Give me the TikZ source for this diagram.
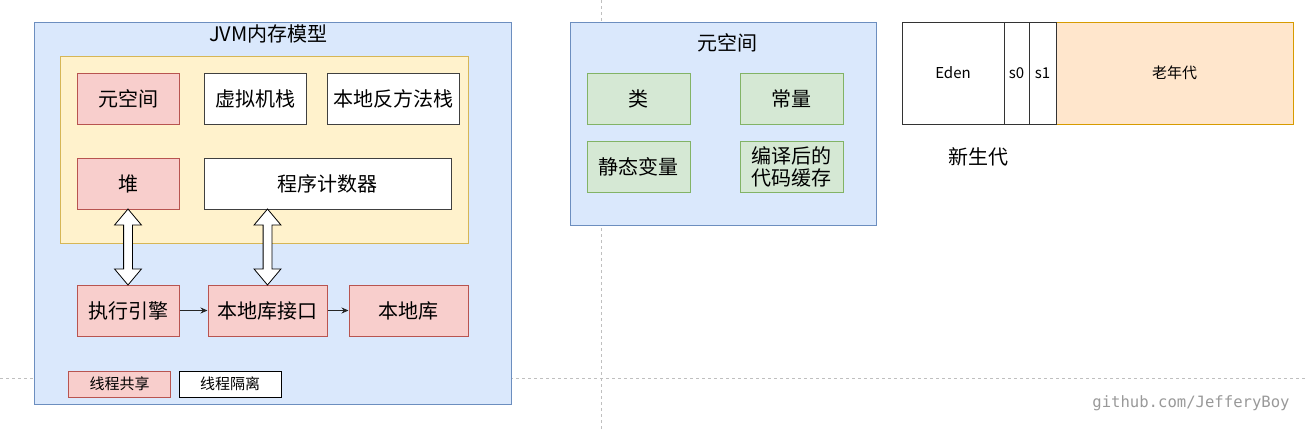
\documentclass[tikz,border=0pt]{standalone}
\usepackage{fontspec}
\setmainfont{Noto Sans CJK SC}
\newfontfamily\monofont{DejaVu Sans Mono}
\usetikzlibrary{shapes.arrows, calc, arrows.meta}

\definecolor{blueFill}{HTML}{DAE8FC}
\definecolor{blueLine}{HTML}{6C8EBF}
\definecolor{yellowFill}{HTML}{FFF2CC}
\definecolor{yellowLine}{HTML}{D6B656}
\definecolor{pinkFill}{HTML}{F8CECC}
\definecolor{pinkLine}{HTML}{B85450}
\definecolor{greenFill}{HTML}{D5E8D4}
\definecolor{greenLine}{HTML}{82B366}
\definecolor{orangeFill}{HTML}{FFE6CC}
\definecolor{orangeLine}{HTML}{D79B00}

\begin{document}
\begin{tikzpicture}[x=1pt, y=-1pt,
    box/.style={draw=black!75, line width=1pt, fill=white, minimum width=102pt,
      minimum height=51pt, inner sep=0pt, font=\fontsize{20}{24}\selectfont},
    pinkbox/.style={box, draw=pinkLine, fill=pinkFill},
    greenbox/.style={box, draw=greenLine, fill=greenFill, minimum width=103pt},
    area/.style={draw=blueLine, fill=blueFill, line width=1pt, inner sep=0pt},
    title/.style={font=\fontsize{20}{24}\selectfont},
    legend/.style={minimum width=102pt, minimum height=26pt, font=\fontsize{15}{18}\selectfont},
    gen/.style={draw=black!80, line width=1pt, fill=white, minimum height=102pt,
      inner sep=0pt, font=\fontsize{15}{18}\selectfont},
    blockarrow/.style={double arrow, draw=black, fill=white, line width=0.8pt,
      rotate=90, inner sep=4pt, minimum width=26pt,
      double arrow head extend=9pt, double arrow tip angle=80},
    link/.style={-{Stealth[length=7pt, width=6pt]}, line width=0.8pt, draw=black!85},
    guide/.style={draw=black!25, dash pattern=on 3pt off 3pt, line width=0.8pt}]
    \useasboundingbox (0,0) rectangle (1305,431);

    % page guides
    \draw [guide] (601,0) -- (601,431);
    \draw [guide] (0,378) -- (1305,378);

    % JVM memory model
    \node [area, minimum width=477pt, minimum height=382pt] (jvm) at (272.5,213) {};
    \node [title] (jvmtitle) at ($(jvm.north)+(-4,12)$) {JVM内存模型};
    \node [draw=yellowLine, fill=yellowFill, line width=1pt, minimum width=408pt,
      minimum height=187pt] (shared) at (264,149.5) {};

    \node [pinkbox] (meta) at (128,98.5) {元空间};
    \node [box] (vmstack) at (255,98.5) {虚拟机栈};
    \node [box, minimum width=132pt] (nativestack) at (393,98.5) {本地反方法栈};
    \node [pinkbox] (heap) at (128,183.5) {堆};
    \node [box, minimum width=247pt] (pc) at (327.5,183.5) {程序计数器};

    \node [pinkbox] (engine) at (128,310.5) {执行引擎};
    \node [pinkbox, minimum width=119pt] (nif) at (267.5,310.5) {本地库接口};
    \node [pinkbox, minimum width=119pt] (nlib) at (408.5,310.5) {本地库};

    % block arrows and links
    \node [blockarrow, minimum height=76pt] (heaparrow)
      at ($(heap.south)!0.5!(engine.north)$) {};
    \node [blockarrow, minimum height=76pt] (pcarrow)
      at ($(nif.north)!0.5!(nif.north |- pc.south)$) {};
    \draw [link] (engine) -- (nif);
    \draw [link] (nif) -- (nlib);

    % legend
    \node [legend, draw=pinkLine, fill=pinkFill, line width=1pt] (legshared) at (119.5,384) {线程共享};
    \node [legend, draw=black, fill=white, line width=1pt] (legisolated) at (230,384) {线程隔离};

    % metaspace
    \node [area, minimum width=306pt, minimum height=203pt] (metaspace) at (723,123.5) {};
    \node [title] (metatitle) at ($(metaspace.north)+(4,21)$) {元空间};
    \node [greenbox] (klass) at (638.5,98.5) {类};
    \node [greenbox] (const) at (791.5,98.5) {常量};
    \node [greenbox] (static) at (638.5,166.5) {静态变量};
    \node [greenbox, align=center] (codecache) at (791.5,166.5) {编译后的\\[-2pt]代码缓存};

    % heap generations
    \node [gen, draw=orangeLine, fill=orangeFill, minimum width=237pt] (old) at (1174.5,73) {老年代};
    \node [gen, minimum width=102pt] (eden) at (953,73) {Eden};
    \node [gen, minimum width=25pt] (s0) at (1016.5,73) {s0};
    \node [gen, minimum width=27pt] (s1) at (1042.5,73) {s1};
    \node [title] (young) at (978,157) {新生代};

    \node [text=black!40, font=\monofont\fontsize{15.6}{18}\selectfont] (github) at (1191,403) {github.com/JefferyBoy};
\end{tikzpicture}
\end{document}
